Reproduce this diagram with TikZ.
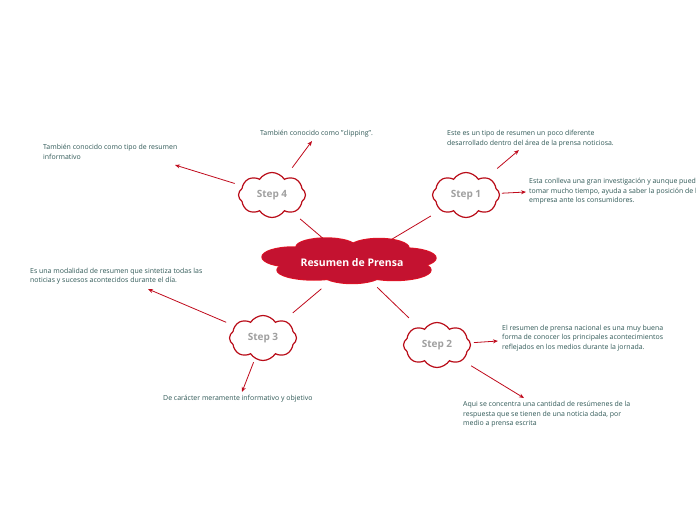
\documentclass[tikz,border=0pt]{standalone}
\usepackage{fontspec}
\setmainfont{Open Sans}
\usetikzlibrary{shapes.symbols,calc,arrows.meta}
\definecolor{crim}{RGB}{196,18,48}
\definecolor{crimline}{RGB}{230,20,35}
\definecolor{stepline}{RGB}{185,12,24}
\definecolor{linkred}{RGB}{192,10,28}
\definecolor{txt}{RGB}{47,88,86}
\definecolor{steptxt}{RGB}{160,160,160}
\tikzset{
  stepcloud/.style={cloud, cloud puffs=8, cloud puff arc=115, cloud ignores aspect,
    minimum width=67pt, minimum height=45pt, inner sep=0pt, draw=stepline, line width=1.2pt,
    fill=white, text=steptxt, font=\fontsize{10}{12}\selectfont\bfseries},
  link/.style={draw=linkred, line width=0.8pt},
  arr/.style={link, -{Stealth[length=5pt,width=4pt]}},
  note/.style={anchor=north west, inner sep=0pt, align=left, text=txt,
    font=\fontsize{6.95}{9.5}\selectfont}
}
\begin{document}
\begin{tikzpicture}[x=1pt,y=-1pt]
\clip (0,0) rectangle (696,520);
\fill[white] (0,0) rectangle (696,520);
% central cloud
\foreach \e in {{(326,247) ellipse (30 and 9)},{(379,248) ellipse (30 and 9.5)},
  {(293,257) ellipse (31 and 10)},{(404,258) ellipse (32 and 10)},
  {(314,270) ellipse (37 and 10)},{(394,270) ellipse (37 and 10.5)},
  {(352,274) ellipse (30 and 9.5)}}{
  \draw[crimline, line width=1.4pt] \e;
}
\foreach \e in {{(326,247) ellipse (30 and 9)},{(379,248) ellipse (30 and 9.5)},
  {(293,257) ellipse (31 and 10)},{(404,258) ellipse (32 and 10)},
  {(314,270) ellipse (37 and 10)},{(394,270) ellipse (37 and 10.5)},
  {(352,274) ellipse (30 and 9.5)}}{
  \fill[crim] \e;
}
\fill[crim] (300,248) rectangle (410,272);
\node[text=white, font=\fontsize{10.5}{12}\selectfont\bfseries] (c) at (352,263) {Resumen de Prensa};

% steps
\node[stepcloud] (s4) at (272,195) {Step 4};
\node[stepcloud] (s1) at (466,195) {Step 1};
\node[stepcloud] (s3) at (263,338) {Step 3};
\node[stepcloud] (s2) at (437,345) {Step 2};

% connectors centre -> steps
\draw[link] ($(c)!38pt!(s4)$) -- ($(s4)!37pt!(c)$);
\draw[link] ($(c)!46pt!(s1)$) -- ($(s1)!41pt!(c)$);
\draw[link] ($(c)!40pt!(s3)$) -- ($(s3)!39pt!(c)$);
\draw[link] ($(c)!35pt!(s2)$) -- ($(s2)!39pt!(c)$);

% arrow targets
\coordinate (a4l) at (175,165);
\coordinate (a4t) at (312,141);
\coordinate (a1t) at (519,150);
\coordinate (a1r) at (526,192);
\coordinate (a3l) at (148,289);
\coordinate (a3b) at (242,392);
\coordinate (a2r) at (498,341);
\coordinate (a2b) at (524,398);

\draw[arr] ($(s4)!39pt!(a4l)$) -- (a4l);
\draw[arr] ($(s4)!34pt!(a4t)$) -- (a4t);
\draw[arr] ($(s1)!41pt!(a1t)$) -- (a1t);
\draw[arr] ($(s1)!36pt!(a1r)$) -- (a1r);
\draw[arr] ($(s3)!40pt!(a3l)$) -- (a3l);
\draw[arr] ($(s3)!26pt!(a3b)$) -- (a3b);
\draw[arr] ($(s2)!37pt!(a2r)$) -- (a2r);
\draw[arr] ($(s2)!40pt!(a2b)$) -- (a2b);

% notes
\node[note] (n4l) at (43,144) {También conocido como tipo de resumen\\informativo};
\node[note] (n4t) at (260,130) {También conocido como "clipping".};
\node[note] (n1t) at (447,130) {Este es un tipo de resumen un poco diferente\\desarrollado dentro del área de la prensa noticiosa.};
\node[note] (n1r) at (529,178) {Esta conlleva una gran investigación y aunque puede\\tomar mucho tiempo, ayuda a saber la posición de la\\empresa ante los consumidores.};
\node[note] (n3l) at (30,268) {Es una modalidad de resumen que sintetiza todas las\\noticias y sucesos acontecidos durante el día.};
\node[note] (n3b) at (163,395) {De carácter meramente informativo y objetivo};
\node[note] (n2r) at (502,325) {El resumen de prensa nacional es una muy buena\\forma de conocer los principales acontecimientos\\reflejados en los medios durante la jornada.};
\node[note] (n2b) at (463,401) {Aqui se concentra una cantidad de resúmenes de la\\respuesta que se tienen de una noticia dada, por\\medio a prensa escrita};
\end{tikzpicture}
\end{document}
